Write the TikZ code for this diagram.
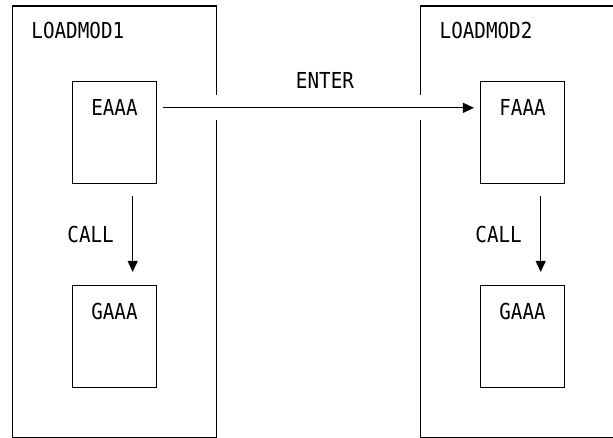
\documentclass[tikz,border=0pt]{standalone}
\usepackage{fontspec}
\setmonofont{DejaVu Sans Mono}[FakeStretch=0.875]
\usepackage{tikz}
\usetikzlibrary{arrows.meta, positioning, calc}

\begin{document}
\begin{tikzpicture}[x=1pt, y=-1pt,
  font=\ttfamily\fontsize{22}{26}\selectfont,
  modbox/.style={draw, line width=1.1pt, minimum width=204pt, minimum height=432pt, inner sep=0pt},
  progbox/.style={draw, line width=1.1pt, minimum width=84pt, minimum height=102pt, inner sep=0pt},
  flow/.style={line width=1.1pt, -{Triangle[length=11pt, width=10pt]}},
  gap/.style={fill=white}]
  \clip (0,0) rectangle (613,438);

  % Load modules
  \node[modbox] (mod1) at (114.5,222) {};
  \node[modbox] (mod2) at (522.7,222) {};
  \node[anchor=west] (mod1-t) at ($(mod1.north west)+(16,25.3)$) {LOADMOD1};
  \node[anchor=west] (mod2-t) at ($(mod2.north west)+(16,25.3)$) {LOADMOD2};

  % Programs
  \node[progbox] (eaaa) at (114.5,132.8) {};
  \node[progbox] (gaaa1) at (114.5,336.5) {};
  \node[progbox] (faaa) at (522.5,132.8) {};
  \node[progbox] (gaaa2) at (522.5,336.5) {};
  \node (eaaa-t) at ($(eaaa.north)+(0,26.6)$) {EAAA};
  \node (gaaa1-t) at ($(gaaa1.north)+(0,26.6)$) {GAAA};
  \node (faaa-t) at ($(faaa.north)+(0,26.6)$) {FAAA};
  \node (gaaa2-t) at ($(gaaa2.north)+(0,26.6)$) {GAAA};

  % Openings in the module borders
  \path[gap] ($(mod1.east |- eaaa-t)+(-2,-13)$) rectangle ($(mod1.east |- eaaa-t)+(2,12)$);
  \path[gap] ($(mod2.west |- eaaa-t)+(-2,-13)$) rectangle ($(mod2.west |- eaaa-t)+(2,12)$);

  % ENTER
  \draw[flow, shorten <=6pt, shorten >=6pt] (eaaa.east |- eaaa-t) -- (faaa.west |- eaaa-t)
    node[pos=0.52, above=15pt] (enter) {ENTER};

  % CALL
  \draw[flow, shorten <=12pt, shorten >=13pt] ($(eaaa.south)+(18.2,0)$) -- ($(gaaa1.north)+(18.2,0)$)
    node[midway, left=15pt] (call1) {CALL};
  \draw[flow, shorten <=12pt, shorten >=13pt] ($(faaa.south)+(18.2,0)$) -- ($(gaaa2.north)+(18.2,0)$)
    node[midway, left=15pt] (call2) {CALL};
\end{tikzpicture}
\end{document}
